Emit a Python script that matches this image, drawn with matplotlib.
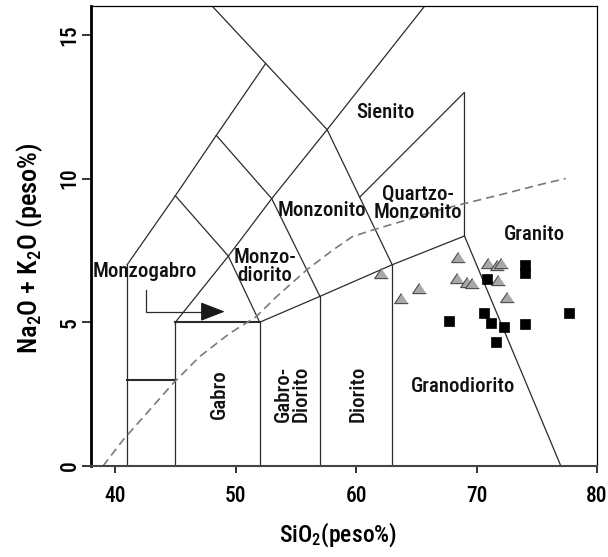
#!/usr/bin/env python3
"""TAS plutonic classification (Middlemost) with two sample groups.

Writes out.png: field boundaries, alkaline/subalkaline dashed curve,
gray triangles and black squares.
"""
import matplotlib
matplotlib.use("Agg")
import matplotlib.pyplot as plt

FONT = ["Roboto Condensed", "Archivo Narrow", "Liberation Sans", "DejaVu Sans"]
plt.rcParams["font.family"] = FONT
plt.rcParams["mathtext.default"] = "regular"

# ---- data ------------------------------------------------------------------
TRI_SIO2 = [62.1, 63.75, 65.2, 68.5, 68.4, 69.2, 69.65, 70.95, 71.7, 72.05, 71.8, 72.55]
TRI_ALK = [6.72, 5.83, 6.20, 7.28, 6.53, 6.41, 6.38, 7.05, 6.99, 7.05, 6.47, 5.89]

SQ_SIO2 = [74.05, 74.05, 70.85, 70.6, 67.75, 71.2, 72.25, 74.05, 77.65, 71.6]
SQ_ALK = [6.99, 6.72, 6.49, 5.33, 5.04, 4.96, 4.84, 4.94, 5.33, 4.32]

# alkaline / subalkaline divide (dashed)
DIV_SIO2 = [39.0, 40.65, 43.1, 44.8, 47.0, 49.5, 51.7, 53.4, 55.9, 58.1, 59.7,
            61.4, 64.2, 66.9, 69.7, 72.5, 75.2, 77.4]
DIV_ALK = [0.0, 0.9, 2.06, 2.87, 3.8, 4.61, 5.19, 5.89, 6.82, 7.52, 7.98,
           8.21, 8.56, 8.91, 9.2, 9.49, 9.78, 10.0]

# field boundaries (SiO2, Na2O+K2O)
FIELD_LINES = [
    [(41, 0), (41, 7)],
    [(45, 0), (45, 5)],
    [(52, 0), (52, 5)],
    [(57, 0), (57, 5.9)],
    [(63, 0), (63, 7)],
    [(52, 5), (57, 5.9), (63, 7), (69, 8)],
    [(69, 8), (77, 0)],
    [(69, 8), (69, 13), (60.3, 9.35)],
    [(41, 7), (45, 9.4), (48.4, 11.5), (52.5, 14)],
    [(45, 5), (49.4, 7.3), (53, 9.3), (57.6, 11.7), (65.7, 16)],
    [(45, 9.4), (49.4, 7.3), (52, 5)],
    [(48.4, 11.5), (53, 9.3), (57, 5.9)],
    [(48.05, 16), (52.5, 14), (57.6, 11.7), (63, 7)],
]
HEAVY_LINES = [
    [(41, 3), (45, 3)],
    [(45, 5), (52, 5)],
]

# (text, SiO2, alk, rotation)
FIELD_LABELS = [
    ("Monzogabro", 42.45, 6.75, 0),
    ("Monzo-\ndiorito", 52.45, 6.93, 0),
    ("Monzonito", 57.2, 8.87, 0),
    ("Sienito", 62.4, 12.3, 0),
    ("Quartzo-\nMonzonito", 65.1, 9.14, 0),
    ("Granito", 74.8, 8.06, 0),
    ("Granodiorito", 68.85, 2.78, 0),
    ("Gabro", 48.67, 2.5, 90),
    ("Gabro-\nDiorito", 54.69, 2.5, 90),
    ("Diorito", 60.17, 2.5, 90),
]

# Monzogabro pointer: elbow then arrow
ARROW_X = [42.53, 42.53, 47.3]
ARROW_Y = [6.12, 5.37, 5.37]
ARROW_TIP = (49.1, 5.37)

LINE_C = "#2b2b2b"


def main():
    fig = plt.figure(figsize=(6.08, 5.57), dpi=100)
    ax = fig.add_axes([91 / 608, 91 / 557, 506 / 608, 460 / 557])

    for seg in FIELD_LINES:
        xs, ys = zip(*seg)
        ax.plot(xs, ys, color=LINE_C, lw=0.9, solid_joinstyle="miter", zorder=2)
    for seg in HEAVY_LINES:
        xs, ys = zip(*seg)
        ax.plot(xs, ys, color=LINE_C, lw=1.5, zorder=2)

    ax.plot(DIV_SIO2, DIV_ALK, color="#7a7a7a", lw=1.2, dashes=(5, 3), zorder=2)

    ax.plot(ARROW_X, ARROW_Y, color=LINE_C, lw=0.9, zorder=3)
    ax.annotate("", xy=ARROW_TIP, xytext=(ARROW_X[-1], ARROW_Y[-1]),
                arrowprops=dict(arrowstyle="-|>,head_length=0.85,head_width=0.33",
                                mutation_scale=18, color="#1a1a1a", lw=0.9,
                                shrinkA=0, shrinkB=0), zorder=3)

    for txt, x, y, rot in FIELD_LABELS:
        ax.text(x, y, txt, rotation=rot, ha="center", va="center",
                multialignment="center", fontsize=15, linespacing=0.95,
                color="#111", weight="medium", zorder=4)

    tri = [(0, 0.75), (-1, -0.75), (1, -0.75)]
    ax.plot(TRI_SIO2, TRI_ALK, ls="none", marker=tri, ms=9.8,
            mfc="#a8a8a8", mec="#4a4a4a", mew=0.8, zorder=5)
    ax.plot(SQ_SIO2, SQ_ALK, ls="none", marker="s", ms=6.6,
            mfc="black", mec="black", mew=0.5, zorder=5)

    ax.set_xlim(38, 80)
    ax.set_ylim(0, 16)
    ax.set_xticks([40, 50, 60, 70, 80])
    ax.set_yticks([0, 5, 10, 15])

    ax.spines["left"].set_linewidth(2.0)
    ax.spines["bottom"].set_linewidth(1.5)
    ax.spines["bottom"].set_color("#444")
    ax.spines["top"].set_linewidth(0.9)
    ax.spines["right"].set_linewidth(0.9)

    ax.tick_params(axis="x", direction="out", length=5, width=1.1,
                   labelsize=15.5, pad=9)
    ax.tick_params(axis="y", direction="out", length=6.5, width=1.1,
                   labelsize=15.5, pad=1)
    for lbl in ax.get_xticklabels() + ax.get_yticklabels():
        lbl.set_fontweight("medium")
    for lbl in ax.get_yticklabels():
        lbl.set_rotation(90)
        lbl.set_va("center")

    fig.text(338 / 608, 1 - 535 / 557, "SiO$_2$(peso%)", ha="center",
             va="center", fontsize=17, weight="medium")
    fig.text(29.5 / 608, 1 - 248 / 557, "Na$_2$O + K$_2$O (peso%)",
             rotation=90, ha="center", va="center", fontsize=19, weight="medium")

    fig.savefig("out.png", dpi=100)
    print("wrote out.png")


if __name__ == "__main__":
    main()
